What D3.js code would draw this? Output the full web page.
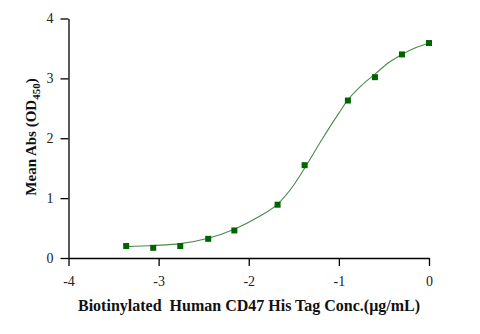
<!DOCTYPE html>
<html>
<head>
<meta charset="utf-8">
<script src="https://cdn.jsdelivr.net/npm/d3@7"></script>
<style>
  html, body { margin: 0; padding: 0; background: #fff; }
  svg { display: block; }
  text { font-family: "Liberation Serif", "Times New Roman", serif; }
</style>
</head>
<body>
<svg id="chart" width="480" height="334"></svg>
<script>
// Measured points: log10 concentration vs mean absorbance
const logConc = [-3.36, -3.06, -2.76, -2.45, -2.16, -1.68, -1.38, -0.90, -0.60, -0.30, 0.00];
const meanAbs = [0.20, 0.17, 0.20, 0.32, 0.46, 0.89, 1.55, 2.63, 3.02, 3.40, 3.59];

// Fitted curve, sampled
const fitX = [-3.36, -3.06, -2.76, -2.45, -2.16, -1.90, -1.68, -1.50, -1.38, -1.20, -1.00, -0.90, -0.75, -0.60, -0.45, -0.30, -0.15, 0.00];
const fitY = [0.19, 0.21, 0.24, 0.33, 0.48, 0.68, 0.90, 1.22, 1.50, 1.95, 2.42, 2.64, 2.88, 3.07, 3.26, 3.40, 3.51, 3.59];

const xTicks = [-4, -3, -2, -1, 0];
const yTicks = [0, 1, 2, 3, 4];

const svg = d3.select("#chart");
const x = d3.scaleLinear().domain([-4, 0]).range([68.5, 429]);
const y = d3.scaleLinear().domain([0, 4]).range([258, 18.5]);

const axisStyle = g => {
  g.select(".domain").attr("stroke", "#000").attr("stroke-width", 1.3);
  g.selectAll(".tick line").attr("stroke", "#000").attr("stroke-width", 1.3);
  g.selectAll(".tick text")
    .attr("font-family", "Liberation Serif, serif")
    .attr("font-size", 14)
    .attr("fill", "#222");
};

svg.append("g")
  .attr("transform", `translate(0,${y(0)})`)
  .call(d3.axisBottom(x).tickValues(xTicks).tickSize(8).tickSizeOuter(0).tickPadding(10)
    .tickFormat(d => String(d)))
  .call(axisStyle);

svg.append("g")
  .attr("transform", `translate(${x(-4)},0)`)
  .call(d3.axisLeft(y).tickValues(yTicks).tickSize(8).tickSizeOuter(0).tickPadding(7)
    .tickFormat(d => String(d)))
  .call(axisStyle);

// Fitted curve
const line = d3.line().x(d => x(d)).y((d, i) => y(fitY[i])).curve(d3.curveMonotoneX);
svg.append("path")
  .attr("d", line(fitX))
  .attr("fill", "none")
  .attr("stroke", "#4a8a4a")
  .attr("stroke-width", 1.1);

// Data markers
const s = 6;
svg.append("g").selectAll("rect")
  .data(logConc)
  .join("rect")
  .attr("x", d => x(d) - s / 2)
  .attr("y", (d, i) => y(meanAbs[i]) - s / 2)
  .attr("width", s)
  .attr("height", s)
  .attr("fill", "#006400");

// Axis titles
svg.append("text")
  .attr("x", 249)
  .attr("y", 311)
  .attr("text-anchor", "middle")
  .attr("font-size", 16)
  .attr("font-weight", "bold")
  .attr("fill", "#111")
  .attr("xml:space", "preserve")
  .text("Biotinylated  Human CD47 His Tag Conc.(\u03BCg/mL)");

const yt = svg.append("text")
  .attr("transform", "translate(36,137) rotate(-90)")
  .attr("text-anchor", "middle")
  .attr("font-size", 15)
  .attr("font-weight", "bold")
  .attr("fill", "#111");
yt.append("tspan").text("Mean Abs (OD");
yt.append("tspan").attr("font-size", 11).attr("dy", 4).text("450");
yt.append("tspan").attr("dy", -4).text(")");
</script>
</body>
</html>
